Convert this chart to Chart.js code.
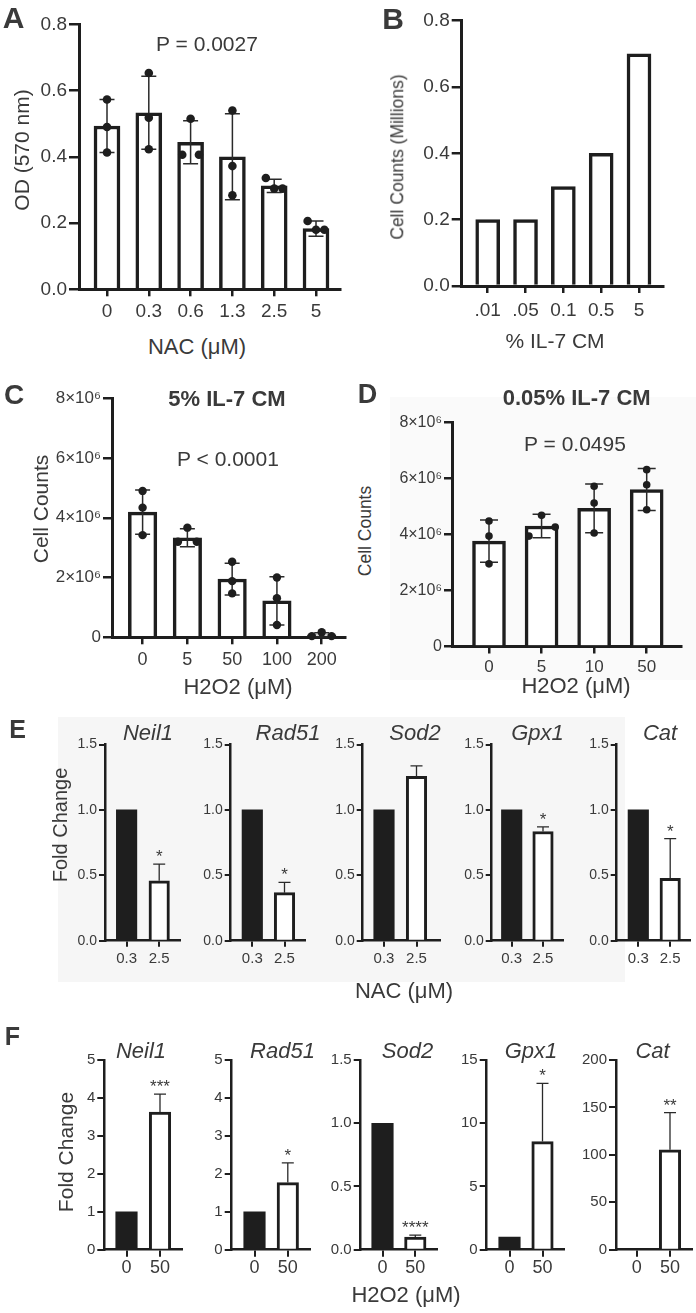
<!DOCTYPE html>
<html>
<head>
<meta charset="utf-8">
<script src="https://cdn.jsdelivr.net/npm/chart.js@4"></script>
<style>
html, body { margin: 0; padding: 0; background: #fff; }
#fig { position: relative; width: 696px; height: 1313px; overflow: hidden; color: #3a3a3a;
       font-family: "Liberation Sans", Arial, sans-serif; }
#fig canvas { position: absolute; }
.t { position: absolute; white-space: nowrap; line-height: 1; transform: translate(-50%, -50%); }
.t.r { transform: translate(-50%, -50%) rotate(-90deg); }
.t.b { font-weight: bold; }
.t.i { font-style: italic; }
.bg { position: absolute; }
</style>
</head>
<body>
<div id="fig">
  <div class="bg" style="left:390px;top:397px;width:306px;height:283px;background:#fafafa"></div>
  <div class="bg" style="left:58px;top:717px;width:567px;height:265px;background:#f6f6f6"></div>
</div>
<script>

// ---- A: OD vs NAC ----
const nacDoses = [ '0', '0.3', '0.6', '1.3', '2.5', '5' ];
const odMean = [ 0.493, 0.533, 0.444, 0.40, 0.312, 0.183 ];
const odSD = [ 0.080, 0.110, 0.065, 0.130, 0.020, 0.023 ];
const odPoints = [ [ 0.573, 0.49, 0.413 ], [ 0.653, 0.518, 0.423 ], [ 0.515, 0.406, 0.406 ],
                   [ 0.54, 0.372, 0.284 ], [ 0.336, 0.304, 0.304 ], [ 0.206, 0.18, 0.18 ] ];
const odJitter = [ [ 0, 0, 0 ], [ 0, 0, 0 ], [ 0, -0.2, 0.2 ], [ 0, 0, 0 ], [ -0.2, 0, 0.2 ], [ -0.2, 0, 0.2 ] ];

// ---- B: cell counts vs % IL-7 CM (millions) ----
const cmDoses = [ '.01', '.05', '0.1', '0.5', '5' ];
const cmCounts = [ 0.2, 0.2, 0.3, 0.4, 0.7 ];

// ---- C: 5% IL-7 CM, counts in millions ----
const h2o2DosesC = [ '0', '5', '50', '100', '200' ];
const countsC = [ 4.19, 3.33, 1.95, 1.22, 0.08 ];
const countsCSD = [ 0.74, 0.30, 0.53, 0.81, 0.07 ];
const pointsC = [ [ 4.9, 4.34, 3.42 ], [ 3.67, 3.2, 3.2 ], [ 2.53, 1.88, 1.47 ], [ 2.0, 1.31, 0.41 ], [ 0.04, 0.17, 0.04 ] ];
const jitterC = [ [ 0, 0, 0 ], [ 0, -0.21, 0.21 ], [ 0, 0, 0 ], [ 0, 0, 0 ], [ -0.22, 0, 0.22 ] ];

// ---- D: 0.05% IL-7 CM, counts in millions ----
const h2o2DosesD = [ '0', '5', '10', '50' ];
const countsD = [ 3.76, 4.30, 4.93, 5.60 ];
const countsDSD = [ 0.75, 0.42, 0.87, 0.75 ];
const pointsD = [ [ 4.48, 3.94, 2.95 ], [ 4.68, 4.26, 3.94 ], [ 5.72, 5.12, 4.05 ], [ 6.31, 5.77, 4.88 ] ];
const jitterD = [ [ 0, 0, 0 ], [ 0, 0.26, -0.24 ], [ 0, 0, 0 ], [ 0, 0, 0 ] ];

// ---- E / F: fold change per gene ----
const genes = [ 'Neil1', 'Rad51', 'Sod2', 'Gpx1', 'Cat' ];
const nacPair = [ '0.3', '2.5' ];
const nacControl = [ 1, 1, 1, 1, 1 ];
const nacFold = [ 0.458, 0.367, 1.256, 0.835, 0.476 ];
const nacFoldSD = [ 0.127, 0.079, 0.081, 0.035, 0.304 ];
const nacStars = [ '*', '*', '', '*', '*' ];
const nacAxisMax = [ 1.5, 1.5, 1.5, 1.5, 1.5 ];
const nacAxisStep = [ 0.5, 0.5, 0.5, 0.5, 0.5 ];

const h2o2Pair = [ '0', '50' ];
const h2o2Control = [ 1, 1, 1, 1, 1 ];
const h2o2Fold = [ 3.63, 1.77, 0.10, 8.55, 105.3 ];
const h2o2FoldSD = [ 0.47, 0.52, 0.015, 4.6, 39.2 ];
const h2o2Stars = [ '***', '*', '****', '*', '**' ];
const h2o2AxisMax = [ 5, 5, 1.5, 15, 200 ];
const h2o2AxisStep = [ 1, 1, 0.5, 5, 50 ];

const INK = '#1e1e1e',
    TXT = '#3a3a3a',
    FONT = '"Liberation Sans", Arial, sans-serif';

Chart.defaults.font.family = FONT;

/**
 * error bars (and significance stars) drawn over the bar dataset
 */
function error_plugin( sd, both, style, stars ) {

    return {
        id: 'errorBars',
        afterDatasetDraw( chart, args ) {

            if( args.index !== 0 ) return;

            let ctx = chart.ctx,
                x = chart.scales.x,
                y = chart.scales.y,
                bars = chart.data.datasets[0].data;

            ctx.save();
            ctx.strokeStyle = '#2a2a2a';
            ctx.lineWidth = style.ew;

            sd.forEach( ( d, i ) => {

                if( d === null ) return;

                let m = bars[ i ].y,
                    px = x.getPixelForValue( i ),
                    top = y.getPixelForValue( m + d ),
                    bot = y.getPixelForValue( both ? m - d : m );

                ctx.beginPath();
                ctx.moveTo( px, bot );
                ctx.lineTo( px, top );
                ctx.moveTo( px - style.cap, top );
                ctx.lineTo( px + style.cap, top );
                if( both ) {
                    ctx.moveTo( px - style.cap, bot );
                    ctx.lineTo( px + style.cap, bot );
                }
                ctx.stroke();

                if( stars && stars[ i ] ) {
                    ctx.fillStyle = TXT;
                    ctx.font = '17px ' + FONT;
                    ctx.textAlign = 'center';
                    ctx.textBaseline = 'alphabetic';
                    ctx.fillText( stars[ i ], px, top - 2 );
                }

            } );

            ctx.restore();

        }
    };

};

/**
 * bar chart whose axes land on given pixel positions
 */
function bar_chart( g, d, st ) {

    let fig = document.getElementById( 'fig' ),
        cv = document.createElement( 'canvas' ),
        L = Math.round( g.x0 - 72 ), T = Math.round( g.yTop - 18 ),
        R = Math.round( g.x1 + 8 ), B = Math.round( g.y0 + 44 ),
        n = d.labels.length,
        unit = ( g.cN - g.c0 ) / ( n - 1 );

    cv.width = R - L;
    cv.height = B - T;
    cv.style.left = L + 'px';
    cv.style.top = T + 'px';
    fig.appendChild( cv );

    let datasets = [ {
        type: 'bar',
        order: 1,
        data: d.values.map( ( v, i ) => ( { x: i, y: v } ) ),
        backgroundColor: d.values.map( ( v, i ) => d.solid && d.solid[ i ] ? INK : '#fff' ),
        borderColor: INK,
        borderWidth: d.values.map( ( v, i ) => d.solid && d.solid[ i ] ? 0 : st.bw ),
        barThickness: st.barW
    } ];

    if( d.points ) {
        datasets.push( {
            type: 'scatter',
            order: 0,
            clip: false,
            data: d.points.flatMap( ( grp, i ) => grp.map( ( v, k ) => ( { x: i + d.jitter[ i ][ k ], y: v } ) ) ),
            pointRadius: st.pr,
            pointBackgroundColor: INK,
            pointBorderWidth: 0
        } );
    }

    let axisGrid = ( len ) => ( {
        display: true,
        drawOnChartArea: false,
        offset: false,
        tickLength: len,
        tickWidth: st.tw,
        tickColor: INK,
        lineWidth: st.tw,
        color: INK
    } );

    new Chart( cv, {
        type: 'bar',
        data: { datasets: datasets },
        plugins: d.sd ? [ error_plugin( d.sd, d.both, st, d.stars ) ] : [],
        options: {
            responsive: false,
            animation: false,
            events: [],
            layout: { padding: { top: g.yTop - T, right: R - g.x1, left: 0, bottom: 0 } },
            plugins: { legend: { display: false }, tooltip: { enabled: false } },
            scales: {
                x: {
                    type: 'linear',
                    offset: false,
                    min: ( g.x0 - g.c0 ) / unit,
                    max: ( n - 1 ) + ( g.x1 - g.cN ) / unit,
                    afterBuildTicks: ( s ) => { s.ticks = d.labels.map( ( l, i ) => ( { value: i } ) ); },
                    afterFit: ( s ) => { s.height = B - g.y0; },
                    border: { display: true, width: st.aw, color: INK },
                    grid: axisGrid( st.xTick ),
                    ticks: {
                        autoSkip: false,
                        maxRotation: 0,
                        padding: st.xPad,
                        color: TXT,
                        font: { size: st.xFont },
                        callback: ( v ) => d.labels[ v ]
                    }
                },
                y: {
                    min: 0,
                    max: d.max,
                    afterFit: ( s ) => { s.width = g.x0 - L; },
                    border: { display: true, width: st.aw, color: INK },
                    grid: axisGrid( st.yTick ),
                    ticks: {
                        stepSize: d.step,
                        padding: 2,
                        color: TXT,
                        font: { size: st.yFont },
                        callback: d.fmt
                    }
                }
            }
        }
    } );

};

function add_text( t, x, y, size, cls ) {

    let el = document.createElement( 'div' );
    el.className = 't ' + ( cls || '' );
    el.textContent = t;
    el.style.left = x + 'px';
    el.style.top = y + 'px';
    el.style.fontSize = size + 'px';
    document.getElementById( 'fig' ).appendChild( el );

};

let fix1 = ( v ) => v.toFixed( 1 ),
    mil = ( v ) => v === 0 ? '0' : Math.round( v ) + '×10⁶';

// A
bar_chart(
    { x0: 79, x1: 340, c0: 107, cN: 316, yTop: 24.3, y0: 289.3 },
    { labels: nacDoses, values: odMean, sd: odSD, both: true, points: odPoints, jitter: odJitter, max: 0.8, step: 0.2, fmt: fix1 },
    { bw: 3.5, barW: 26, pr: 4.3, aw: 3, tw: 2.5, xTick: 7, yTick: 10, xPad: 4, xFont: 19, yFont: 19, ew: 1.5, cap: 7.5 }
);

// B
bar_chart(
    { x0: 461.7, x1: 663, c0: 487.7, cN: 639, yTop: 20.7, y0: 286 },
    { labels: cmDoses, values: cmCounts, max: 0.8, step: 0.2, fmt: fix1 },
    { bw: 3.5, barW: 24, pr: 0, aw: 3, tw: 2.5, xTick: 7, yTick: 10, xPad: 6, xFont: 19, yFont: 19, ew: 1.5, cap: 7 }
);

// C
bar_chart(
    { x0: 112, x1: 345, c0: 142.6, cN: 321.7, yTop: 398.3, y0: 637.3 },
    { labels: h2o2DosesC, values: countsC, sd: countsCSD, both: true, points: pointsC, jitter: jitterC, max: 8, step: 2, fmt: mil },
    { bw: 3.5, barW: 28.5, pr: 4.2, aw: 3, tw: 2.5, xTick: 7, yTick: 9, xPad: 5, xFont: 18, yFont: 17, ew: 1.5, cap: 7.5 }
);

// D
bar_chart(
    { x0: 452, x1: 681.7, c0: 489, cN: 646.7, yTop: 422.3, y0: 646.5 },
    { labels: h2o2DosesD, values: countsD, sd: countsDSD, both: true, points: pointsD, jitter: jitterD, max: 8, step: 2, fmt: mil },
    { bw: 3.5, barW: 33, pr: 3.8, aw: 3, tw: 2.5, xTick: 7, yTick: 8, xPad: 4, xFont: 17, yFont: 16, ew: 1.5, cap: 9 }
);

// E
const geoE = [
    { x0: 105, c0: 126.6, cN: 159.2, x1: 180, tx: 148 },
    { x0: 230.7, c0: 252.3, cN: 284.5, x1: 305, tx: 288 },
    { x0: 362.7, c0: 384, cN: 416.5, x1: 440, tx: 415 },
    { x0: 491.7, c0: 511.7, cN: 543, x1: 562.7, tx: 537.5 },
    { x0: 616.7, c0: 638.3, cN: 670.2, x1: 690, tx: 660 }
];
genes.forEach( ( gene, i ) => {
    bar_chart(
        Object.assign( { yTop: 744.5, y0: 940.7 }, geoE[ i ] ),
        { labels: nacPair, values: [ nacControl[ i ], nacFold[ i ] ], solid: [ true, false ],
          sd: [ null, nacFoldSD[ i ] ], both: false, stars: [ '', nacStars[ i ] ],
          max: nacAxisMax[ i ], step: nacAxisStep[ i ], fmt: fix1 },
        { bw: 3, barW: 20.5, pr: 0, aw: 2.5, tw: 2, xTick: 6, yTick: 6, xPad: 3, xFont: 15, yFont: 14, ew: 1.3, cap: 6 }
    );
    add_text( gene, geoE[ i ].tx, 733, 22, 'i' );
} );

// F
const geoF = [
    { x0: 104.3, c0: 126.5, cN: 160, x1: 181.7, tx: 141 },
    { x0: 231.7, c0: 254.5, cN: 287.8, x1: 310, tx: 282.5 },
    { x0: 360.7, c0: 382.5, cN: 415.3, x1: 437.3, tx: 407.5 },
    { x0: 486.7, c0: 509.5, cN: 542.5, x1: 564, tx: 531 },
    { x0: 616, c0: 636.7, cN: 670, x1: 691.7, tx: 652.5 }
];
genes.forEach( ( gene, i ) => {
    bar_chart(
        Object.assign( { yTop: 1060, y0: 1249.7 }, geoF[ i ] ),
        { labels: h2o2Pair, values: [ h2o2Control[ i ], h2o2Fold[ i ] ], solid: [ true, false ],
          sd: [ null, h2o2FoldSD[ i ] ], both: false, stars: [ '', h2o2Stars[ i ] ],
          max: h2o2AxisMax[ i ], step: h2o2AxisStep[ i ],
          fmt: h2o2AxisStep[ i ] < 1 ? fix1 : ( v ) => String( v ) },
        { bw: 3, barW: 21.5, pr: 0, aw: 2.5, tw: 2, xTick: 7, yTick: 7, xPad: 1, xFont: 18, yFont: 15, ew: 1.3, cap: 6 }
    );
    add_text( gene, geoF[ i ].tx, 1051, 22, 'i' );
} );

// panel letters, titles, axis titles
[
    [ 'A', 13.5, 17.5, 30, 'b' ],
    [ 'P = 0.0027', 207, 43, 21 ],
    [ 'OD (570 nm)', 21, 150, 21, 'r' ],
    [ 'NAC (μM)', 197, 347, 22 ],
    [ 'B', 393, 19, 30, 'b' ],
    [ 'Cell Counts (Millions)', 398, 157, 17.5, 'r' ],
    [ '% IL-7 CM', 555, 340, 21 ],
    [ 'C', 14, 395, 28, 'b' ],
    [ '5% IL-7 CM', 227, 399, 22, 'b' ],
    [ 'P < 0.0001', 228, 458, 21 ],
    [ 'Cell Counts', 39.5, 509, 21, 'r' ],
    [ 'H2O2 (μM)', 238, 687, 22 ],
    [ 'D', 367.5, 394, 27, 'b' ],
    [ '0.05% IL-7 CM', 576.7, 398, 22, 'b' ],
    [ 'P = 0.0495', 575, 443, 21 ],
    [ 'Cell Counts', 366, 531, 17.5, 'r' ],
    [ 'H2O2 (μM)', 576, 686, 22 ],
    [ 'E', 17.5, 729, 25, 'b' ],
    [ 'Fold Change', 60, 825, 20, 'r' ],
    [ 'NAC (μM)', 404, 991, 22 ],
    [ 'F', 12.5, 1036, 25, 'b' ],
    [ 'Fold Change', 65, 1152, 21, 'r' ],
    [ 'H2O2 (μM)', 406, 1295, 22 ]
].forEach( ( a ) => add_text( a[0], a[1], a[2], a[3], a[4] ) );

</script>
</body>
</html>
